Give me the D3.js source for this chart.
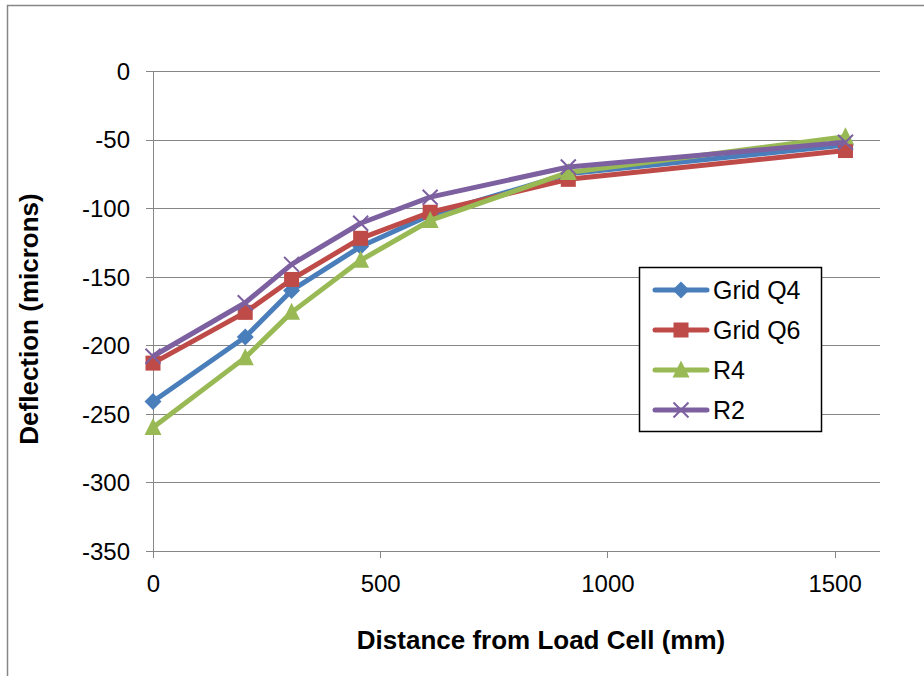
<!DOCTYPE html>
<meta charset="utf-8">
<style>
body { margin: 0; background: #fff; font-family: "Liberation Sans", Arial, sans-serif; }
.grid line { stroke: #868686; stroke-width: 1; shape-rendering: crispEdges; }
.axis path, .axis line { stroke: #868686; stroke-width: 1; shape-rendering: crispEdges; }
.axis text { font-size: 24px; fill: #000; font-family: "Liberation Sans", Arial, sans-serif; }
.title { font-size: 26px; font-weight: bold; }
.legend text { font-size: 25px; }
</style>
<body>
<script src="https://cdnjs.cloudflare.com/ajax/libs/d3/7.8.5/d3.min.js"></script>
<script>

// distances (mm)
var distance = [0, 203, 305, 457, 610, 914, 1524];

// deflection (microns)
var gridQ4 = [-241, -194, -160, -128, -105, -75, -54];
var gridQ6 = [-213, -176, -152, -122, -103, -79, -58];
var r4     = [-260, -209, -176, -138, -109, -74, -48];
var r2     = [-208, -169, -141, -111, -92, -70, -52];

var seriesNames = ["Grid Q4", "Grid Q6", "R4", "R2"];
var xTicks = [0, 500, 1000, 1500];
var yTicks = [0, -50, -100, -150, -200, -250, -300, -350];

var series = [
    {name: seriesNames[0], values: gridQ4, color: "#4A7EBB", symbol: "diamond"},
    {name: seriesNames[1], values: gridQ6, color: "#BE4B48", symbol: "square"},
    {name: seriesNames[2], values: r4,     color: "#98B954", symbol: "triangle"},
    {name: seriesNames[3], values: r2,     color: "#7D60A0", symbol: "x"}
];

var margin = {top: 71, left: 153},
    width = 727,
    height = 480;

var x = d3.scaleLinear().domain([0, 1600]).range([0, width]);
var y = d3.scaleLinear().domain([-350, 0]).range([height, 0]);

var svg = d3.select("body").append("svg")
    .attr("width", 924)
    .attr("height", 676);

// chart border
svg.append("rect")
    .attr("x", 7.5).attr("y", 5.5)
    .attr("width", 1000).attr("height", 1000)
    .attr("fill", "none")
    .attr("stroke", "#868686")
    .attr("stroke-width", 1.5);

var g = svg.append("g")
    .attr("transform", "translate(" + margin.left + "," + margin.top + ")");

// horizontal gridlines
g.append("g").attr("class", "grid")
  .selectAll("line")
  .data(yTicks.filter(function(d) { return d !== -350; }))
  .enter().append("line")
    .attr("x1", 0).attr("x2", width)
    .attr("y1", function(d) { return Math.round(y(d)) + 0.5; })
    .attr("y2", function(d) { return Math.round(y(d)) + 0.5; });

var plain = function(d) { return String(d); };

// y axis
var yAxis = g.append("g").attr("class", "axis")
    .call(d3.axisLeft(y).tickValues(yTicks).tickSize(7).tickPadding(16).tickFormat(plain));
yAxis.selectAll("text").attr("dy", "0.35em");

// x axis
var xAxis = g.append("g").attr("class", "axis")
    .attr("transform", "translate(0," + height + ")")
    .call(d3.axisBottom(x).tickValues(xTicks).tickSize(7).tickSizeOuter(0).tickPadding(17).tickFormat(plain));
xAxis.select(".domain").attr("d", "M-7,0.5H" + width);
yAxis.select(".domain").attr("d", "M0.5,0V" + height);

// axis titles
svg.append("text")
    .attr("class", "title")
    .attr("x", margin.left + 388)
    .attr("y", 649)
    .attr("text-anchor", "middle")
    .text("Distance from Load Cell (mm)");

svg.append("text")
    .attr("class", "title")
    .attr("transform", "translate(38," + (margin.top + height / 2 + 8) + ") rotate(-90)")
    .attr("text-anchor", "middle")
    .text("Deflection (microns)");

function drawMarker(sel, s, size) {
    var h = size / 2;
    if (s.symbol === "diamond") {
        sel.append("path").attr("d", "M0," + (-h - 1) + "L" + (h + 1) + ",0L0," + (h + 1) + "L" + (-h - 1) + ",0Z")
            .attr("fill", s.color);
    } else if (s.symbol === "square") {
        sel.append("rect").attr("x", -h).attr("y", -h).attr("width", size).attr("height", size)
            .attr("fill", s.color);
    } else if (s.symbol === "triangle") {
        sel.append("path").attr("d", "M0," + (-h - 2) + "L" + (h + 1) + "," + (h) + "L" + (-h - 1) + "," + (h) + "Z")
            .attr("fill", s.color);
    } else {
        sel.append("path").attr("d", "M" + (-h) + "," + (-h) + "L" + h + "," + h + "M" + h + "," + (-h) + "L" + (-h) + "," + h)
            .attr("stroke", s.color).attr("stroke-width", 2).attr("fill", "none");
    }
}

var line = d3.line()
    .x(function(d) { return x(d[0]); })
    .y(function(d) { return y(d[1]); });

series.forEach(function(s) {
    var pts = distance.map(function(d, i) { return [d, s.values[i]]; });
    g.append("path")
        .attr("d", line(pts))
        .attr("fill", "none")
        .attr("stroke", s.color)
        .attr("stroke-width", 5)
        .attr("stroke-linejoin", "round");
    pts.forEach(function(p) {
        var m = g.append("g").attr("transform", "translate(" + x(p[0]) + "," + y(p[1]) + ")");
        drawMarker(m, s, 15);
    });
});

// legend
var legend = svg.append("g").attr("class", "legend");
legend.append("rect")
    .attr("x", 639.5).attr("y", 267.5)
    .attr("width", 182).attr("height", 164)
    .attr("fill", "#fff").attr("stroke", "#000").attr("stroke-width", 1.5);

series.forEach(function(s, i) {
    var ly = 290 + i * 40;
    var item = legend.append("g");
    item.append("line")
        .attr("x1", 655).attr("x2", 707)
        .attr("y1", ly).attr("y2", ly)
        .attr("stroke", s.color).attr("stroke-width", 5)
        .attr("stroke-linecap", "round");
    var m = item.append("g").attr("transform", "translate(681," + ly + ")");
    drawMarker(m, s, 15);
    item.append("text")
        .attr("x", 713).attr("y", ly)
        .attr("dy", "0.35em")
        .text(s.name);
});

</script>
</body>
